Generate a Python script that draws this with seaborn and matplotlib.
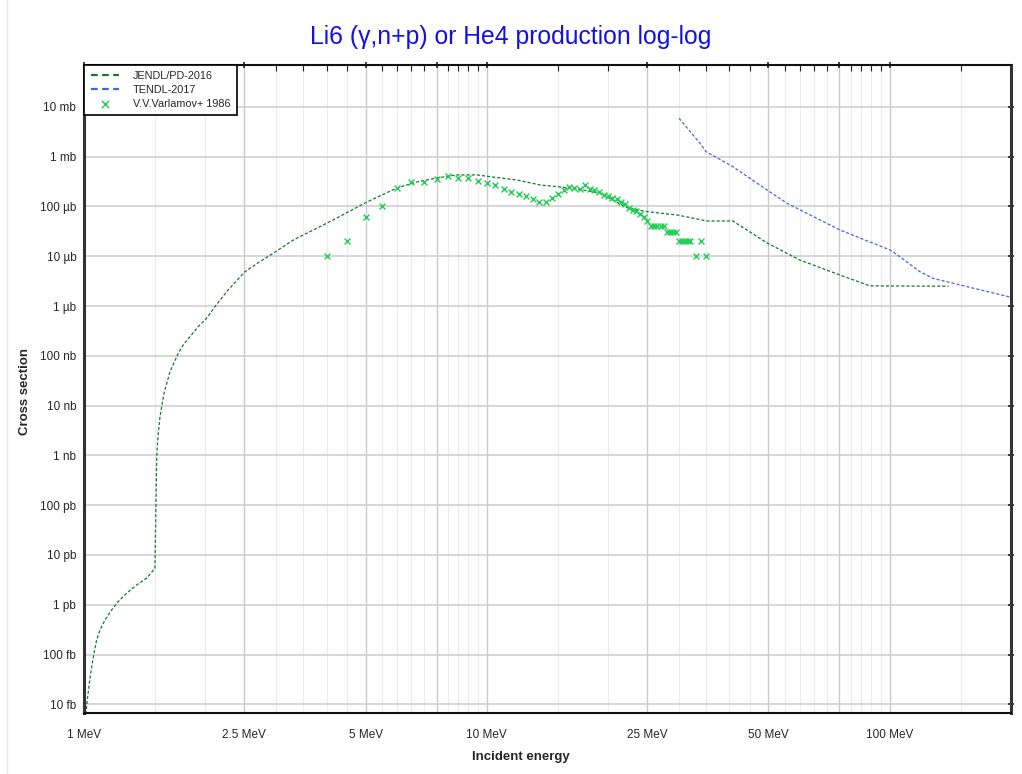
import numpy as np
import pandas as pd
import seaborn as sns
import matplotlib.pyplot as plt
from matplotlib.lines import Line2D

# JENDL/PD-2016 evaluation (MeV, barn)
jendl_e = [1.008, 1.019, 1.031, 1.045, 1.059, 1.075, 1.096, 1.128, 1.172, 1.216,
           1.276, 1.352, 1.431, 1.50, 1.515, 1.520, 1.529, 1.544, 1.559, 1.580,
           1.635, 1.714, 1.764, 1.833, 1.921, 2.016, 2.114, 2.261, 2.509, 2.734,
           2.951, 3.308, 3.708, 4.157, 5.04, 5.98, 6.71, 7.52, 8.43, 9.45,
           10.35, 11.88, 13.55, 15.19, 17.32, 19.09, 22.4, 24.93, 27.1, 29.8,
           35.2, 40.8, 49.6, 59.8, 75.2, 89.3, 140.0]
jendl_xs = [5.0e-15, 1.23e-14, 2.67e-14, 5.7e-14, 1.07e-13, 1.97e-13, 3.13e-13, 4.98e-13, 7.9e-13, 1.16e-12,
            1.71e-12, 2.51e-12, 3.42e-12, 5.4e-12, 8.8e-10, 1.5e-9, 2.8e-9, 6.0e-9, 9.5e-9, 1.77e-8,
            4.8e-8, 1.13e-7, 1.66e-7, 2.43e-7, 3.86e-7, 5.7e-7, 9.7e-7, 1.95e-6, 4.9e-6, 7.8e-6,
            1.15e-5, 2.12e-5, 3.37e-5, 5.36e-5, 1.23e-4, 2.35e-4, 3.1e-4, 3.73e-4, 4.3e-4, 4.3e-4,
            3.9e-4, 3.4e-4, 2.7e-4, 2.47e-4, 2.14e-4, 1.84e-4, 9.3e-5, 7.9e-5, 7.3e-5, 6.7e-5,
            5.1e-5, 5.1e-5, 1.85e-5, 8.4e-6, 4.2e-6, 2.54e-6, 2.5e-6]

# TENDL-2017
tendl_e = [30.0, 33.8, 35.0, 40.8, 49.6, 55.6, 75.2, 100.1, 106.0, 118.8, 128.0, 155.5, 200.0]
tendl_xs = [5.9e-3, 1.86e-3, 1.26e-3, 6.3e-4, 2.14e-4, 1.16e-4, 3.37e-5, 1.34e-5, 9.8e-6,
            4.9e-6, 3.6e-6, 2.45e-6, 1.5e-6]

# V.V.Varlamov+ 1986 (MeV, microbarn)
exp_e = [4.0, 4.5, 5.0, 5.5, 6.0, 6.5, 7.0, 7.5, 8.0, 8.5, 9.0, 9.5, 10.0, 10.5, 11.0,
         11.5, 12.0, 12.5, 13.0, 13.5, 14.0, 14.5, 15.0, 15.5, 16.0, 16.5, 17.0, 17.5,
         18.0, 18.5, 19.0, 19.5, 20.0, 20.5, 21.0, 21.5, 22.0, 22.5, 23.0, 23.5, 24.0,
         24.5, 25.0, 25.5, 26.0, 26.5, 27.0, 27.5, 28.0, 28.5, 29.0, 29.5, 30.0, 30.5,
         31.0, 31.5, 32.0, 33.0, 34.0, 35.0]
exp_xs_ub = [10, 20, 60, 100, 240, 310, 310, 360, 410, 370, 370, 330, 300, 270, 225,
             195, 180, 160, 140, 125, 125, 150, 180, 215, 250, 235, 225, 270,
             225, 215, 195, 170, 160, 150, 140, 125, 110, 95, 85, 80, 72,
             62, 50, 40, 40, 40, 40, 40, 30, 30, 30, 30, 20, 20,
             20, 20, 20, 10, 20, 10]

x_major = [1, 2.5, 5, 7.5, 10, 25, 50, 75, 100]
x_labels = ['1 MeV', '2.5 MeV', '5 MeV', '', '10 MeV', '25 MeV', '50 MeV', '', '100 MeV']
x_minor = [1.5, 2, 3, 3.5, 4, 4.5, 5.5, 6, 6.5, 7, 8, 8.5, 9, 9.5, 15, 20, 30, 35, 40, 45,
           55, 60, 65, 70, 80, 85, 90, 95, 150]
y_ticks = [1e-14, 1e-13, 1e-12, 1e-11, 1e-10, 1e-9, 1e-8, 1e-7, 1e-6, 1e-5, 1e-4, 1e-3, 1e-2]
y_labels = ['10 fb', '100 fb', '1 pb', '10 pb', '100 pb', '1 nb', '10 nb', '100 nb',
            '1 µb', '10 µb', '100 µb', '1 mb', '10 mb']

sns.set_style('white')
plt.rcParams['font.family'] = ['Liberation Sans', 'DejaVu Sans']

jendl = pd.DataFrame({'E': jendl_e, 'xs': jendl_xs})
tendl = pd.DataFrame({'E': tendl_e, 'xs': tendl_xs})
exp = pd.DataFrame({'E': exp_e, 'xs': np.array(exp_xs_ub) * 1e-6})

fig = plt.figure(figsize=(10.22, 7.74), dpi=100)
ax = fig.add_axes([84 / 1022, 1 - 713.3 / 774, 927 / 1022, 648.6 / 774])
ax.set_xscale('log')
ax.set_yscale('log')

sns.lineplot(data=jendl, x='E', y='xs', ax=ax, color='#127a2a', lw=0.9,
             linestyle=(0, (2.5, 1.6)), estimator=None, sort=False, label='JENDL/PD-2016')
sns.lineplot(data=tendl, x='E', y='xs', ax=ax, color='#3f68e0', lw=0.9,
             linestyle=(0, (2.5, 1.6)), estimator=None, sort=False, label='TENDL-2017')
sns.scatterplot(data=exp, x='E', y='xs', ax=ax, marker='x', color='#22cc55', s=18,
                linewidth=1.0, label='V.V.Varlamov+ 1986', zorder=3)

ax.set_xlim(1, 200)
ax.set_ylim(10 ** -14.18, 10 ** -1.153)

ax.set_xticks(x_major)
ax.set_xticklabels(x_labels)
ax.set_xticks(x_minor, minor=True)
ax.set_xticklabels([], minor=True)
ax.set_yticks(y_ticks)
ax.set_yticklabels(y_labels)
ax.yaxis.set_minor_locator(plt.NullLocator())

ax.grid(which='major', axis='x', color='#cacaca', lw=1.0)
ax.grid(which='minor', axis='x', color='#ededed', lw=0.9)
ax.grid(which='major', axis='y', color='#cfcfcf', lw=1.2)
ax.set_axisbelow(True)

ax.tick_params(which='major', direction='inout', length=5, width=1.2, color='#222222',
               top=True, right=True, labelsize=8.5, pad=9)
ax.tick_params(which='minor', direction='in', length=4, width=0.8, color='#222222',
               top=True, right=True)
ax.tick_params(axis='y', pad=3)

for side in ['left', 'right']:
    ax.spines[side].set_linewidth(2.2)
    ax.spines[side].set_color('#333333')
for side in ['top', 'bottom']:
    ax.spines[side].set_linewidth(1.5)
    ax.spines[side].set_color('#111111')

ax.set_xlabel('')
ax.set_ylabel('')

leg = ax.legend(loc='upper left', fontsize=7.8, frameon=True, fancybox=False,
                edgecolor='black', borderaxespad=0, handlelength=2.6,
                handletextpad=1.3, labelspacing=0.35, borderpad=0.6, markerscale=1.25)
leg.get_frame().set_linewidth(1.2)
leg.get_frame().set_alpha(1)
for h in leg.get_lines():
    h.set_linestyle((0, (3, 2)))
    h.set_linewidth(1.6)

fig.text(0.5, 1 - 37 / 774, 'Li6 (γ,n+p) or He4 production log-log', color='#1010e8',
         fontsize=17.8, ha='center', va='center')
fig.text(521 / 1022, 1 - 757 / 774, 'Incident energy', fontsize=9.5, fontweight='bold',
         ha='center', va='center')
fig.text(25 / 1022, 1 - 391 / 774, 'Cross section', fontsize=9.5, fontweight='bold',
         ha='center', va='center', rotation=90)
fig.add_artist(Line2D([6.5 / 1022, 6.5 / 1022], [0, 1], color='#e8e8e8', lw=1,
                      transform=fig.transFigure))

fig.savefig('out.png', dpi=100)
